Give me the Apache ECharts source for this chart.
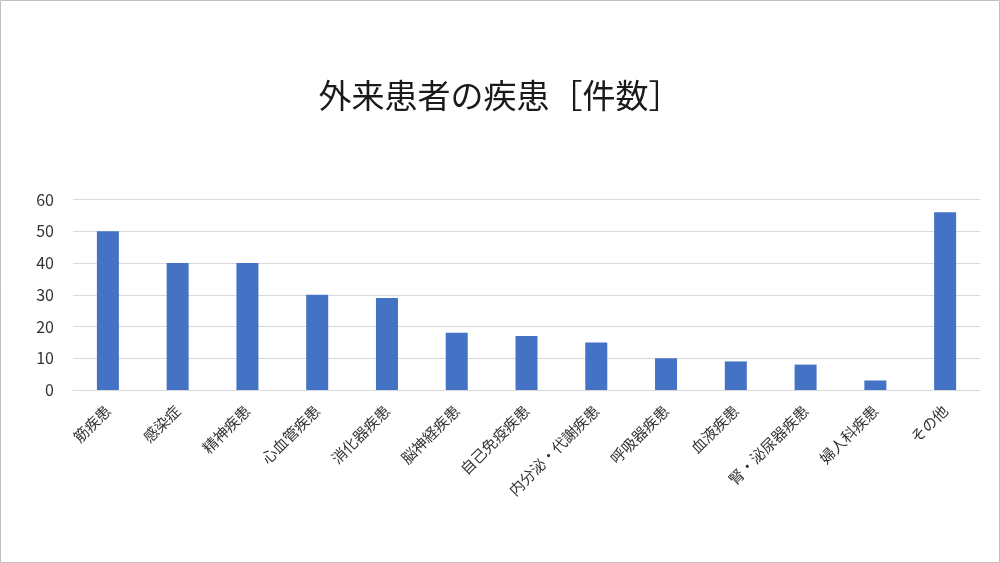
<!DOCTYPE html>
<html>
<head>
<meta charset="utf-8">
<script src="https://cdn.jsdelivr.net/npm/echarts@6/dist/echarts.min.js"></script>
<style>
html,body{margin:0;padding:0;background:#fff;}
#chart{width:1000px;height:563px;}
</style>
</head>
<body>
<div id="chart"></div>
<script>
const titleText = '外来患者の疾患［件数］';
const categories = ['筋疾患','感染症','精神疾患','心血管疾患','消化器疾患','脳神経疾患','自己免疫疾患','内分泌・代謝疾患','呼吸器疾患','血液疾患','腎・泌尿器疾患','婦人科疾患','その他'];
const values = [50, 40, 40, 30, 29, 18, 17, 15, 10, 9, 8, 3, 56];
const yTicks = [0, 10, 20, 30, 40, 50, 60];

const chart = echarts.init(document.getElementById('chart'), null, {renderer: 'canvas'});
const font = '"Noto Sans CJK JP", "Noto Sans", sans-serif';
chart.setOption({
  backgroundColor: '#fff',
  animation: false,
  textStyle: {fontFamily: font},
  title: {
    text: titleText,
    left: 'center',
    top: 74,
    textStyle: {fontFamily: font, fontSize: 33, fontWeight: 'normal', color: '#1a1a1a'}
  },
  graphic: [{
    type: 'rect',
    shape: {x: 0.5, y: 0.5, width: 999, height: 562},
    style: {fill: 'none', stroke: '#bfbfbf', lineWidth: 1},
    silent: true
  }],
  grid: {left: 73, right: 20, top: 199.5, bottom: 173, containLabel: false},
  xAxis: {
    type: 'category',
    data: categories,
    axisTick: {show: false},
    axisLine: {lineStyle: {color: '#d9d9d9'}},
    axisLabel: {rotate: 45, interval: 0, color: '#333333', fontSize: 15, fontFamily: font, margin: 18}
  },
  yAxis: {
    type: 'value',
    min: yTicks[0],
    max: yTicks[yTicks.length - 1],
    interval: 10,
    axisLine: {show: false},
    axisTick: {show: false},
    splitLine: {lineStyle: {color: '#d9d9d9'}},
    axisLabel: {color: '#333333', fontSize: 16, fontFamily: font, margin: 19}
  },
  series: [{
    type: 'bar',
    data: values,
    barWidth: 22,
    itemStyle: {color: '#4472c4'}
  }]
});
</script>
</body>
</html>
